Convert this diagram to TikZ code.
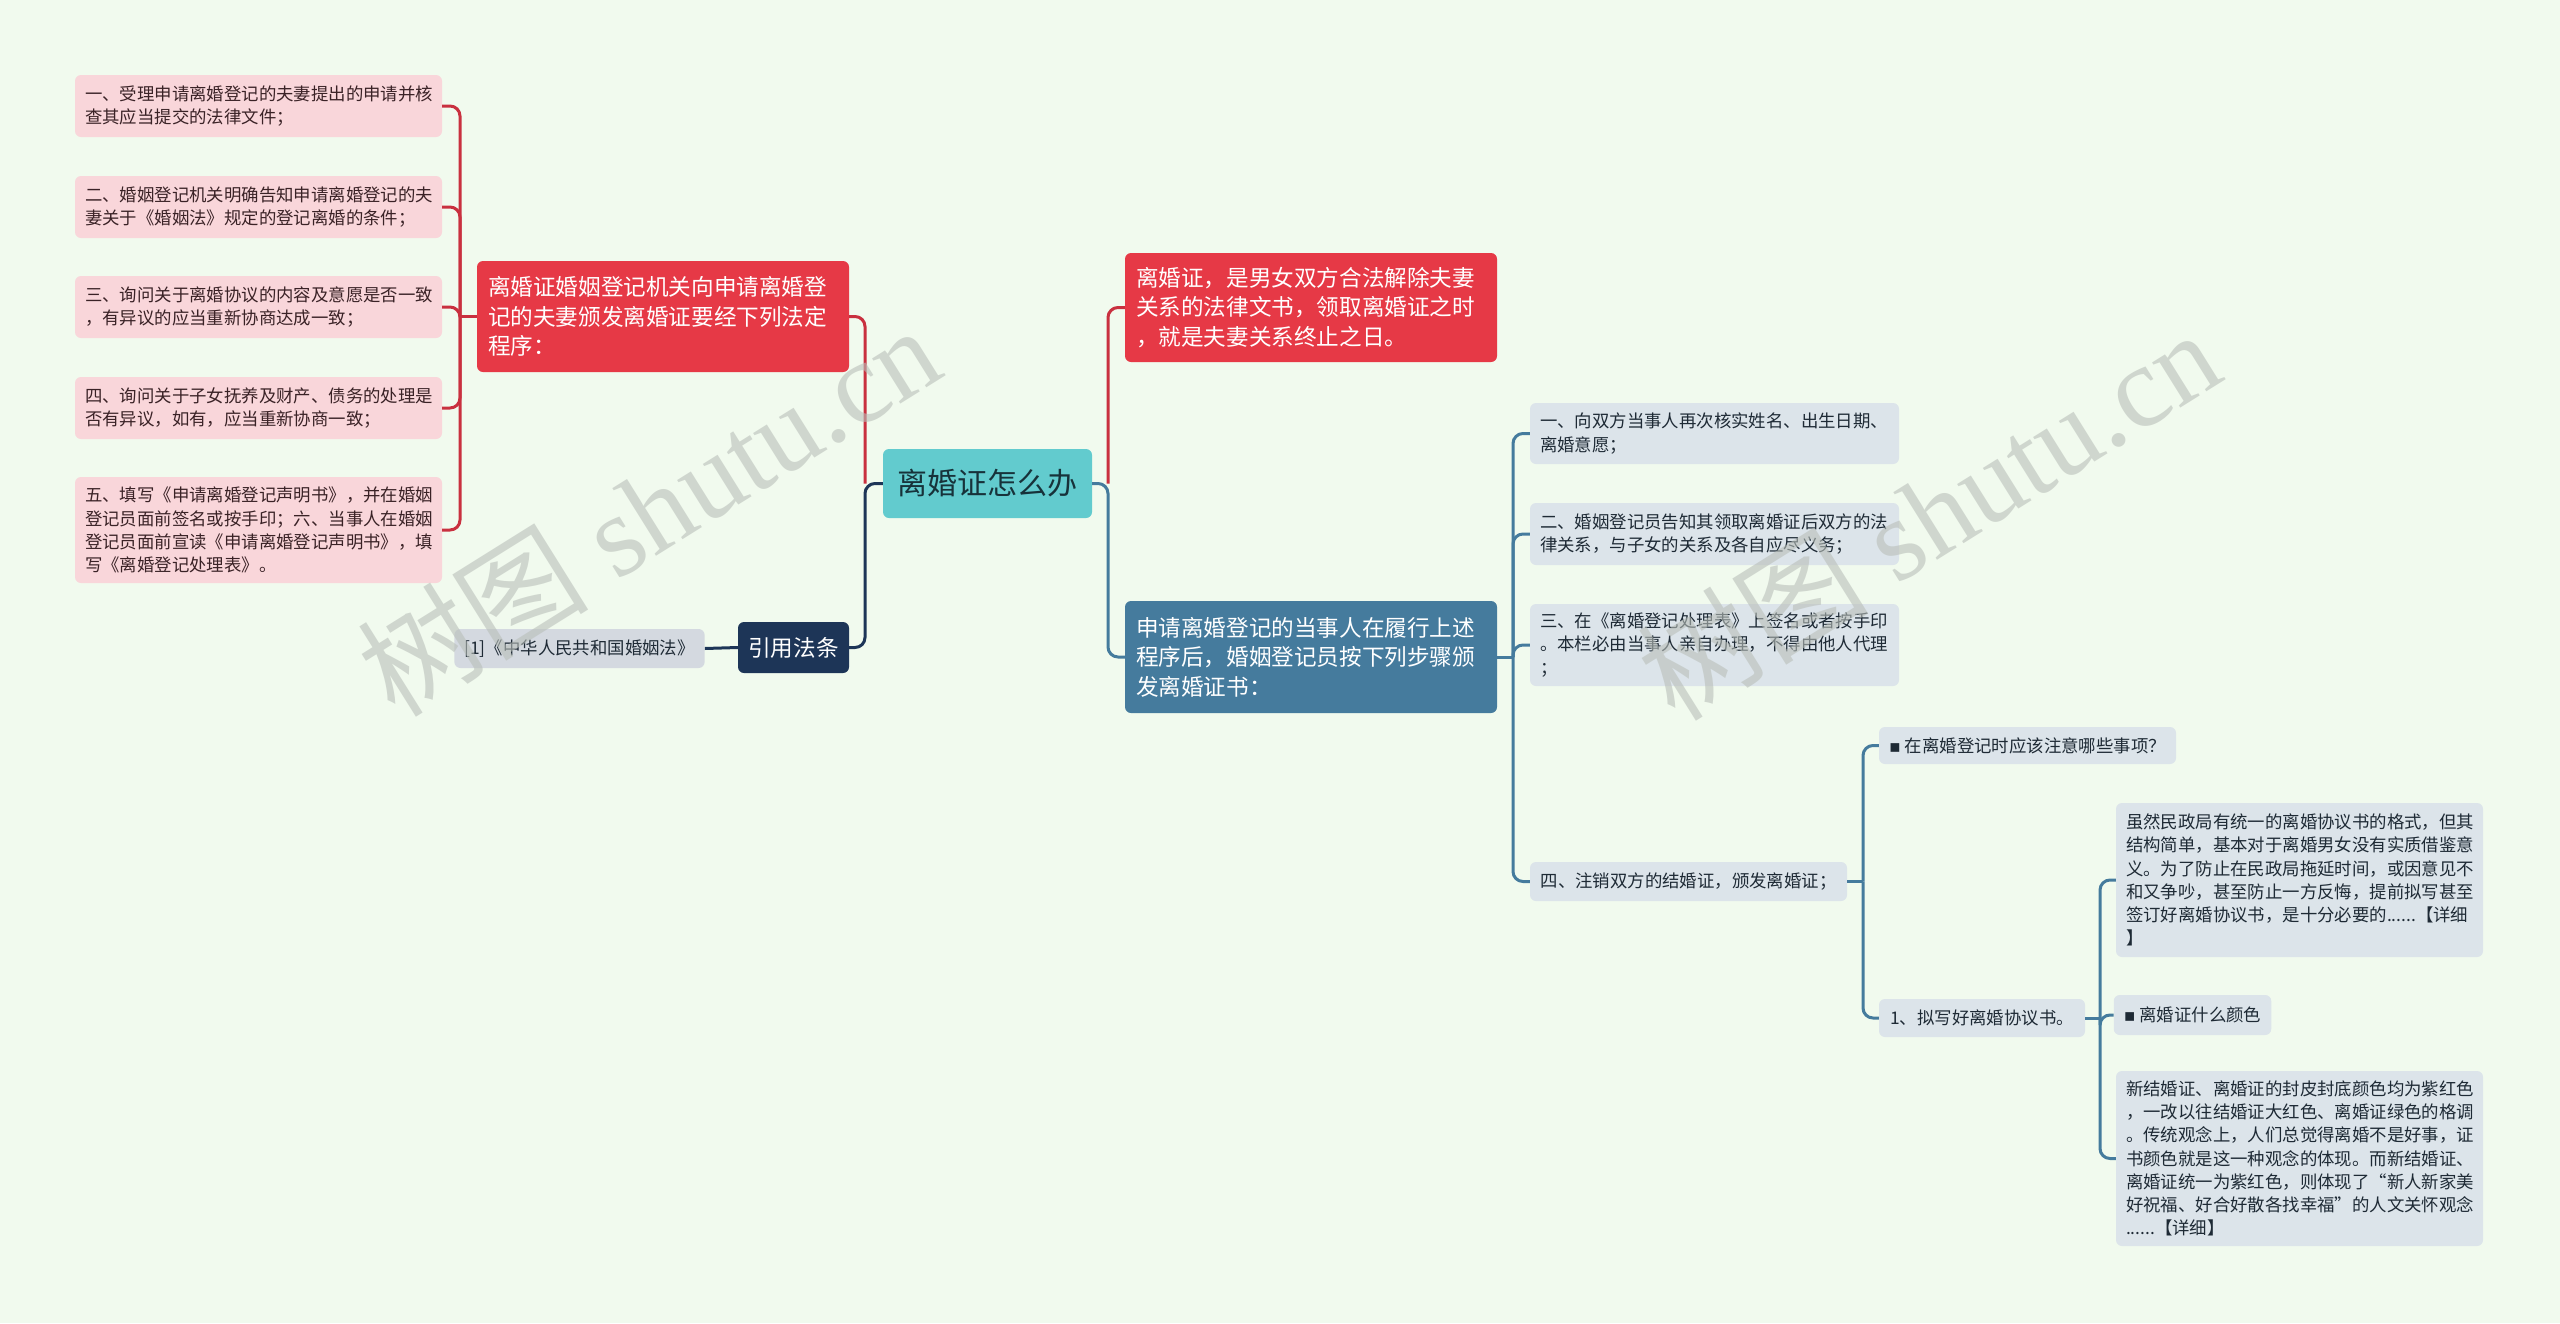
\documentclass[tikz,border=0pt]{standalone}
\usepackage{fontspec}
\setmainfont{Noto Sans CJK SC}
\newfontfamily\symfont{DejaVu Sans}
\newfontfamily\wmfont{Liberation Serif}
\definecolor{bgcol}{HTML}{F1FAEE}
\definecolor{rootfill}{HTML}{62CBCE}
\definecolor{roottext}{HTML}{17323A}
\definecolor{redfill}{HTML}{E63946}
\definecolor{bluefill}{HTML}{457B9D}
\definecolor{navyfill}{HTML}{1D3557}
\definecolor{pinkfill}{HTML}{F9D6DA}
\definecolor{pinktext}{HTML}{3A2226}
\definecolor{grayfill}{HTML}{DCE4EA}
\definecolor{graytext}{HTML}{1E2A35}
\definecolor{reffill}{HTML}{D4D9E0}
\definecolor{redline}{HTML}{C9303F}
\definecolor{wmgray}{HTML}{B9BFB9}
\tikzset{
  base/.style={rounded corners=6pt, inner xsep=10pt, inner ysep=0pt, align=left},
  small/.style={font=\fontsize{17.4}{23.2}\selectfont},
  big/.style={font=\fontsize{22.6}{29.6}\selectfont},
  pinkbox/.style={base, small, fill=pinkfill, text=pinktext, text width=347pt},
  graybox/.style={base, small, fill=grayfill, text=graytext},
  redbox/.style={base, big, inner xsep=11pt, fill=redfill, text=white, text width=350pt},
  bluebox/.style={base, big, inner xsep=11pt, fill=bluefill, text=white, text width=350pt},
  wire/.style={line width=3pt, rounded corners=10pt},
  redwire/.style={wire, draw=redline},
  bluewire/.style={wire, draw=bluefill},
  navywire/.style={wire, draw=navyfill},
  watermark/.style={rotate=32, text=wmgray, opacity=.6, font=\wmfont\fontsize{116}{120}\selectfont}
}
\newcommand{\sq}{{\symfont ▪}}
\begin{document}
\begin{tikzpicture}[x=1pt,y=-1pt]
  \fill[bgcol] (0,0) rectangle (2560,1323);
  \useasboundingbox (0,0) rectangle (2560,1323);

  \node[base, fill=rootfill, text=roottext, minimum width=209pt, minimum height=69pt,
        font=\fontsize{30}{36}\selectfont] (root) at (987.5,483.5) {离婚证怎么办};

  % left branch
  \node[redbox, minimum height=111pt] (proc) at (663,316.5)
    {离婚证婚姻登记机关向申请离婚登\\记的夫妻颁发离婚证要经下列法定\\程序：};
  \node[pinkbox, minimum height=62pt] (p1) at (258.5,106)
    {一、受理申请离婚登记的夫妻提出的申请并核\\查其应当提交的法律文件；};
  \node[pinkbox, minimum height=62pt] (p2) at (258.5,207)
    {二、婚姻登记机关明确告知申请离婚登记的夫\\妻关于《婚姻法》规定的登记离婚的条件；};
  \node[pinkbox, minimum height=62pt] (p3) at (258.5,307)
    {三、询问关于离婚协议的内容及意愿是否一致\\，有异议的应当重新协商达成一致；};
  \node[pinkbox, minimum height=62pt] (p4) at (258.5,408)
    {四、询问关于子女抚养及财产、债务的处理是\\否有异议，如有，应当重新协商一致；};
  \node[pinkbox, minimum height=106pt] (p5) at (258.5,530)
    {五、填写《申请离婚登记声明书》，并在婚姻\\登记员面前签名或按手印；六、当事人在婚姻\\登记员面前宣读《申请离婚登记声明书》，填\\写《离婚登记处理表》。};
  \node[base, big, fill=navyfill, text=white, minimum width=111pt, minimum height=51pt] (cite) at (793.5,647.5) {引用法条};
  \node[base, small, fill=reffill, text=graytext, minimum width=249pt, minimum height=39pt] (law) at (579.5,648.5)
    {[1]《中华人民共和国婚姻法》};

  % right branch
  \node[redbox, minimum height=109pt] (defn) at (1311,307.5)
    {离婚证，是男女双方合法解除夫妻\\关系的法律文书，领取离婚证之时\\，就是夫妻关系终止之日。};
  \node[bluebox, minimum height=112pt] (steps) at (1311,657)
    {申请离婚登记的当事人在履行上述\\程序后，婚姻登记员按下列步骤颁\\发离婚证书：};
  \node[graybox, text width=349pt, minimum height=61pt] (g1) at (1714.5,433.5)
    {一、向双方当事人再次核实姓名、出生日期、\\离婚意愿；};
  \node[graybox, text width=349pt, minimum height=62pt] (g2) at (1714.5,534)
    {二、婚姻登记员告知其领取离婚证后双方的法\\律关系，与子女的关系及各自应尽义务；};
  \node[graybox, text width=349pt, minimum height=82pt] (g3) at (1714.5,645)
    {三、在《离婚登记处理表》上签名或者按手印\\。本栏必由当事人亲自办理，不得由他人代理\\；};
  \node[graybox, minimum width=317pt, minimum height=39pt] (g4) at (1688.5,881.5)
    {四、注销双方的结婚证，颁发离婚证；};
  \node[graybox, minimum width=297pt, minimum height=37pt] (q1) at (2027.5,745.5)
    {\sq~在离婚登记时应该注意哪些事项？};
  \node[graybox, minimum width=206pt, minimum height=38pt] (s1) at (1982,1018)
    {1、拟写好离婚协议书。};
  \node[graybox, text width=347pt, minimum height=154pt] (t1) at (2299.5,880)
    {虽然民政局有统一的离婚协议书的格式，但其\\结构简单，基本对于离婚男女没有实质借鉴意\\义。为了防止在民政局拖延时间，或因意见不\\和又争吵，甚至防止一方反悔，提前拟写甚至\\签订好离婚协议书，是十分必要的......【详细\\】};
  \node[graybox, minimum width=153pt, minimum height=40pt] (t2) at (2192.5,1015)
    {\sq~离婚证什么颜色};
  \node[graybox, text width=347pt, minimum height=175pt] (t3) at (2299.5,1158.5)
    {新结婚证、离婚证的封皮封底颜色均为紫红色\\，一改以往结婚证大红色、离婚证绿色的格调\\。传统观念上，人们总觉得离婚不是好事，证\\书颜色就是这一种观念的体现。而新结婚证、\\离婚证统一为紫红色，则体现了“新人新家美\\好祝福、好合好散各找幸福”的人文关怀观念\\......【详细】};

  % connectors
  \coordinate (rj) at (1108,483.5);
  \coordinate (lj) at (865,483.5);
  \coordinate (pj) at (460,316.5);
  \coordinate (gj) at (1513,657);
  \coordinate (qj) at (1863,881.5);
  \coordinate (tj) at (2100,1018);
  \draw[bluewire] (root.east) -- (rj) |- (steps.west);
  \draw[redwire] (rj) |- (defn.west);
  \draw[navywire] (root.west) -- (lj) |- (cite.east);
  \draw[redwire] (lj) |- (proc.east);
  \draw[navywire] (cite.west) -- (law.east);
  \draw[redwire] (proc.west) -- (pj);
  \foreach \n in {p1,p2,p3,p4,p5} {
    \draw[redwire] (pj) |- (\n.east);
  }
  \draw[bluewire] (steps.east) -- (gj);
  \foreach \n in {g1,g2,g3,g4} {
    \draw[bluewire] (gj) |- (\n.west);
  }
  \draw[bluewire] (g4.east) -- (qj);
  \foreach \n in {q1,s1} {
    \draw[bluewire] (qj) |- (\n.west);
  }
  \draw[bluewire] (s1.east) -- (tj);
  \foreach \n in {t1,t2,t3} {
    \draw[bluewire] (tj) |- (\n.west);
  }

  \node[watermark] (wm1) at (648,510) {{\fontspec{Noto Sans CJK SC}树图} shutu.cn};
  \node[watermark] (wm2) at (1928,514) {{\fontspec{Noto Sans CJK SC}树图} shutu.cn};
\end{tikzpicture}
\end{document}
